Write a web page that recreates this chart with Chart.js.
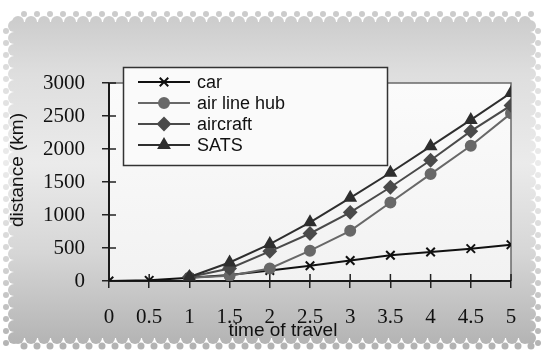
<!DOCTYPE html>
<html>
<head>
<meta charset="utf-8">
<script src="https://cdn.jsdelivr.net/npm/chart.js@4/dist/chart.umd.min.js"></script>
<style>
  html, body { margin: 0; padding: 0; background: #ffffff; }
  #wrap { width: 543px; height: 354px; }
</style>
</head>
<body>
<div id="wrap"><canvas id="c" width="543" height="354"></canvas></div>
<script>
// Distance covered (km) against time of travel for each mode
const travelTime  = [0, 0.5, 1, 1.5, 2, 2.5, 3, 3.5, 4, 4.5, 5];
const car         = [0, 10, 50, 90, 160, 230, 310, 390, 440, 490, 550];
const airLineHub  = [null, null, 50, 80, 190, 460, 760, 1190, 1620, 2050, 2540];
const aircraft    = [null, null, 60, 190, 450, 720, 1040, 1420, 1830, 2270, 2660];
const sats        = [null, null, 60, 280, 560, 890, 1260, 1640, 2040, 2440, 2850];
const seriesNames = ['car', 'air line hub', 'aircraft', 'SATS'];
const xTicks = [0, 0.5, 1, 1.5, 2, 2.5, 3, 3.5, 4, 4.5, 5];
const yTicks = [0, 500, 1000, 1500, 2000, 2500, 3000];
const xTitle = 'time of travel';
const yTitle = 'distance (km)';

const toPoints = arr => travelTime.map((t, i) => ({ x: t, y: arr[i] }));

const styles = [
  { color: '#111111', point: 'crossRot', radius: 6, fill: '#111111' },
  { color: '#686868', point: 'circle',   radius: 5, fill: '#686868' },
  { color: '#4a4a4a', point: 'rectRot',  radius: 6, fill: '#4a4a4a' },
  { color: '#2e2e2e', point: 'triangle', radius: 6, fill: '#2e2e2e' }
];
const values = [car, airLineHub, aircraft, sats];

const datasets = values.map((v, i) => ({
  label: seriesNames[i],
  data: toPoints(v),
  borderColor: styles[i].color,
  backgroundColor: styles[i].fill,
  borderWidth: 2,
  pointStyle: styles[i].point,
  pointRadius: styles[i].radius,
  pointBorderWidth: 2,
  pointBorderColor: styles[i].color,
  pointBackgroundColor: styles[i].fill,
  tension: 0,
  fill: false
})).reverse(); // car on top

// Grey scalloped card behind everything
const cardBackground = {
  id: 'cardBackground',
  beforeDraw(chart) {
    const ctx = chart.ctx;
    const W = chart.width, H = chart.height;
    ctx.save();
    ctx.fillStyle = '#ffffff';
    ctx.fillRect(0, 0, W, H);
    const g = ctx.createLinearGradient(0, 14, 0, 346);
    g.addColorStop(0, '#cbcbcb');
    g.addColorStop(0.18, '#dedede');
    g.addColorStop(0.45, '#ebebeb');
    g.addColorStop(0.72, '#d6d6d6');
    g.addColorStop(1, '#b3b3b3');
    ctx.fillStyle = g;
    const L = 14, T = 22, R = 530, B = 338;
    ctx.beginPath();
    ctx.rect(L, T, R - L, B - T);
    ctx.fill();
    // scalloped edges
    const bump = (x, y, r) => { ctx.beginPath(); ctx.arc(x, y, r, 0, Math.PI * 2); ctx.fill(); };
    for (let x = L + 4; x <= R; x += 13) { bump(x, T, 6); bump(x + 6, T - 8, 3); bump(x, B, 6); bump(x + 6, B + 8, 3.5); }
    for (let y = T + 4; y <= B; y += 12) { bump(L, y, 6); bump(L - 8, y + 5, 3); bump(R, y, 6); bump(R + 8, y + 5, 3); }
    ctx.restore();
  },
  beforeDatasetsDraw(chart) {
    const { ctx, chartArea: a } = chart;
    ctx.save();
    const g = ctx.createLinearGradient(0, a.top, 0, a.bottom);
    g.addColorStop(0, '#fbfbfb');
    g.addColorStop(1, '#f2f2f2');
    ctx.fillStyle = g;
    ctx.fillRect(a.left, a.top, a.right - a.left, a.bottom - a.top);
    // frame top and right
    ctx.strokeStyle = '#6a6a6a';
    ctx.lineWidth = 1.5;
    ctx.beginPath();
    ctx.moveTo(a.left, a.top);
    ctx.lineTo(a.right, a.top);
    ctx.lineTo(a.right, a.bottom);
    ctx.stroke();
    // inward half of the tick marks
    ctx.strokeStyle = '#222222';
    ctx.lineWidth = 1.5;
    const xs = chart.scales.x, ys = chart.scales.y;
    ctx.beginPath();
    xs.ticks.forEach(t => { const p = xs.getPixelForValue(t.value); ctx.moveTo(p, a.bottom); ctx.lineTo(p, a.bottom - 7); });
    ys.ticks.forEach(t => { const p = ys.getPixelForValue(t.value); ctx.moveTo(a.left, p); ctx.lineTo(a.left + 7, p); });
    ctx.stroke();
    // axis lines
    ctx.strokeStyle = '#1a1a1a';
    ctx.lineWidth = 2;
    ctx.beginPath();
    ctx.moveTo(a.left, a.top);
    ctx.lineTo(a.left, a.bottom);
    ctx.lineTo(a.right, a.bottom);
    ctx.stroke();
    ctx.restore();
  }
};

// Axis titles and the boxed legend
const overlay = {
  id: 'overlay',
  afterDraw(chart) {
    const ctx = chart.ctx;
    ctx.save();
    ctx.fillStyle = '#111111';
    ctx.font = '19px "Liberation Sans", Arial, sans-serif';
    ctx.textAlign = 'center';
    ctx.textBaseline = 'middle';
    ctx.fillText(xTitle, 283, 331);
    ctx.translate(18, 170);
    ctx.rotate(-Math.PI / 2);
    ctx.fillText(yTitle, 0, 0);
    ctx.restore();

    // legend box
    ctx.save();
    const bx = 123.5, by = 67.5, bw = 264, bh = 98;
    ctx.fillStyle = '#fafafa';
    ctx.fillRect(bx, by, bw, bh);
    ctx.strokeStyle = '#333333';
    ctx.lineWidth = 1.5;
    ctx.strokeRect(bx, by, bw, bh);
    const rows = [82, 103, 124, 145];
    ctx.font = '18px "Liberation Sans", Arial, sans-serif';
    ctx.textAlign = 'left';
    ctx.textBaseline = 'middle';
    seriesNames.forEach((name, i) => {
      const s = styles[i];
      const y = rows[i];
      ctx.strokeStyle = s.color;
      ctx.lineWidth = 2;
      ctx.beginPath();
      ctx.moveTo(138, y);
      ctx.lineTo(190, y);
      ctx.stroke();
      ctx.fillStyle = s.fill;
      ctx.strokeStyle = s.color;
      Chart.helpers.drawPoint(ctx, { pointStyle: s.point, radius: s.radius, borderWidth: 2, rotation: 0 }, 164, y);
      ctx.fillStyle = '#111111';
      ctx.fillText(name, 197, y + 1);
    });
    ctx.restore();
  }
};

// Serif numerals on both axes
Chart.defaults.font.family = "'Liberation Serif', 'Times New Roman', serif";
Chart.defaults.font.size = 21;
const tickFont = { family: "'Liberation Serif', 'Times New Roman', serif", size: 21, weight: 'normal' };

new Chart(document.getElementById('c'), {
  type: 'line',
  data: { datasets },
  plugins: [cardBackground, overlay],
  options: {
    responsive: false,
    devicePixelRatio: 1,
    animation: false,
    layout: { padding: { left: 0, top: 83, right: 32, bottom: 0 } },
    plugins: { legend: { display: false }, tooltip: { enabled: false } },
    scales: {
      x: {
        type: 'linear',
        min: 0, max: 5,
        afterBuildTicks: s => { s.ticks = xTicks.map(v => ({ value: v })); },
        afterFit: s => { s.height = 73; },
        grid: { drawOnChartArea: false, tickLength: 7, color: '#222222', lineWidth: 1.5 },
        border: { display: false },
        ticks: { font: tickFont, color: '#111111', padding: 17, maxRotation: 0, autoSkip: false, callback: v => String(v) }
      },
      y: {
        type: 'linear',
        min: 0, max: 3000,
        afterBuildTicks: s => { s.ticks = yTicks.map(v => ({ value: v })); },
        afterFit: s => { s.width = 109; },
        grid: { drawOnChartArea: false, tickLength: 7, color: '#222222', lineWidth: 1.5 },
        border: { display: false },
        ticks: { font: tickFont, color: '#111111', padding: 17, callback: v => String(v) }
      }
    }
  }
});
</script>
</body>
</html>
